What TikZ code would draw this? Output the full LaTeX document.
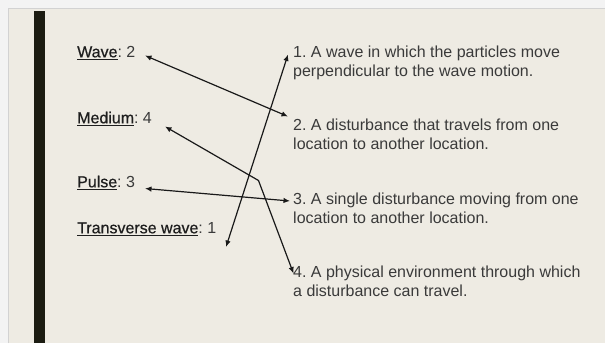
\documentclass[tikz,border=0pt]{standalone}
\usepackage{fontspec}
\setmainfont{Liberation Sans}
\newfontfamily\termfont[FakeBold=0.6]{Liberation Sans}
\usetikzlibrary{arrows.meta}
\definecolor{outerbg}{HTML}{F3F3F3}
\definecolor{frameline}{HTML}{D2D2D2}
\definecolor{panel}{HTML}{EEEBE3}
\definecolor{barcol}{HTML}{1C1C12}
\definecolor{ink}{HTML}{3A3A3A}
\definecolor{termink}{HTML}{1E1E1E}
\newcommand{\term}[1]{{\termfont\color{termink}\underline{#1}}}
\frenchspacing
\begin{document}
\begin{tikzpicture}[x=1pt,y=-1pt,
  lbl/.style={anchor=base west, inner sep=0pt, font=\frenchspacing\fontsize{16}{19}\selectfont, text=ink},
  desc/.style={anchor=base west, inner sep=0pt, align=left, font=\frenchspacing\fontsize{16}{19}\selectfont, text=ink},
  conn/.style={draw=black!90, line width=1.2pt, {Latex[length=6.5pt,width=5.5pt]}-{Latex[length=6.5pt,width=5.5pt]}}]
\fill[outerbg] (0,0) rectangle (605,343);
\useasboundingbox (0,0) rectangle (605,343);
\fill[panel] (9,9) rectangle (605,343);
\draw[frameline, line width=1pt] (8.5,343) -- (8.5,8.5) -- (605,8.5);
\fill[barcol] (34,11) rectangle (45,343);

\node[lbl] (wave) at (77,57.3) {\term{Wave}: 2};
\node[lbl] (medium) at (77,123.3) {\term{Medium}: 4};
\node[lbl] (pulse) at (77,187.3) {\term{Pulse}: 3};
\node[lbl] (trans) at (77,233.3) {\term{Transverse wave}: 1};

% anchor "base" of a multi-line node is the baseline of its last line
\node[desc] (d1) at (293,76.5) {1. A wave in which the particles move\\perpendicular to the wave motion.};
\node[desc] (d2) at (293,149.5) {2. A disturbance that travels from one\\location to another location.};
\node[desc] (d3) at (293,223) {3. A single disturbance moving from one\\location to another location.};
\node[desc] (d4) at (293,296.5) {4. A physical environment through which\\a disturbance can travel.};

\coordinate (waveEnd) at (145,55.5);
\coordinate (d2End) at (288,116.5);
\coordinate (medEnd) at (165,126.5);
\coordinate (bend) at (258.5,180.5);
\coordinate (d4End) at (293.5,273.5);
\coordinate (pulseEnd) at (145,188.5);
\coordinate (d3End) at (290,201);
\coordinate (transEnd) at (226,247);
\coordinate (d1End) at (288,54.5);

\draw[conn] (waveEnd) -- (d2End);
\draw[conn] (medEnd) -- (bend) -- (d4End);
\draw[conn] (pulseEnd) -- (d3End);
\draw[conn] (transEnd) -- (d1End);
\end{tikzpicture}
\end{document}
